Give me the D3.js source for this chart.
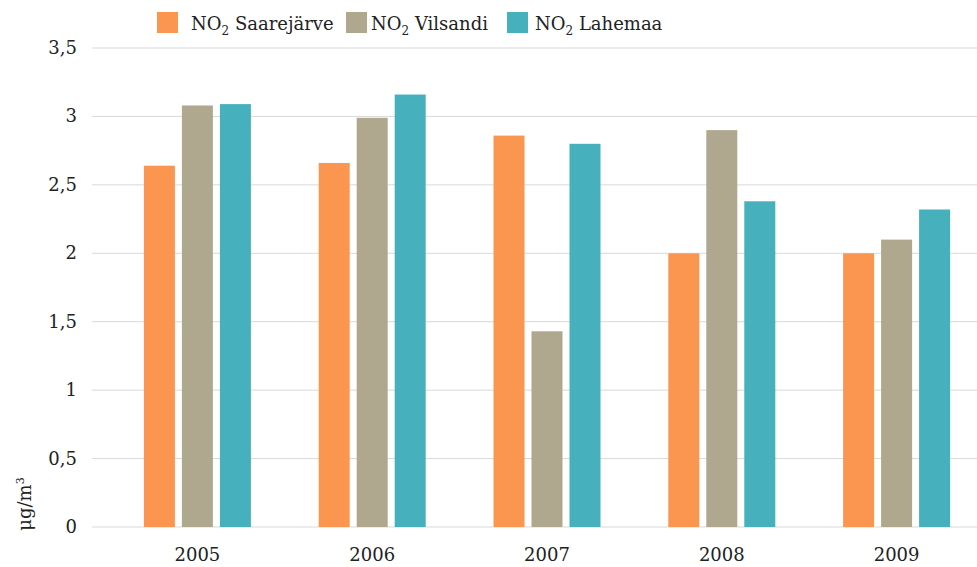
<!DOCTYPE html>
<html>
<head>
<meta charset="utf-8">
<script src="https://cdn.jsdelivr.net/npm/d3@7"></script>
<style>
  body { margin: 0; background: #fff; }
  svg text { font-family: "DejaVu Serif", serif; fill: #222; }
</style>
</head>
<body>
<svg id="chart"></svg>
<script>
const years = ["2005", "2006", "2007", "2008", "2009"];
const seriesNames = ["Saarejärve", "Vilsandi", "Lahemaa"];
const seriesColors = ["#fb9650", "#b0a88e", "#46b0bd"];
const saarejarve = [2.64, 2.66, 2.86, 2.0, 2.0];
const vilsandi = [3.08, 2.99, 1.43, 2.9, 2.1];
const lahemaa = [3.09, 3.16, 2.8, 2.38, 2.32];
const yTicks = [0, 0.5, 1, 1.5, 2, 2.5, 3, 3.5];

const values = [saarejarve, vilsandi, lahemaa];

const width = 977;
const height = 567;

const svg = d3.select("#chart")
    .attr("width", width)
    .attr("height", height);

const yScale = d3.scaleLinear()
    .domain([0, 3.5])
    .range([527, 48]);

const xScale = d3.scaleBand()
    .domain(years)
    .range([110, 984]);

const groupWidth = 107;
const xInner = d3.scaleBand()
    .domain(seriesNames)
    .range([0, groupWidth])
    .paddingInner(0.184);

const fmt = d => String(d).replace(".", ",");

// gridlines
svg.append("g")
    .selectAll("line")
    .data(yTicks)
    .enter()
    .append("line")
    .attr("x1", 92)
    .attr("x2", 977)
    .attr("y1", d => yScale(d))
    .attr("y2", d => yScale(d))
    .attr("stroke", "#d9d9d9")
    .attr("stroke-width", 1);

// y tick labels
svg.append("g")
    .selectAll("text")
    .data(yTicks)
    .enter()
    .append("text")
    .attr("x", 77)
    .attr("y", d => yScale(d) + 6)
    .attr("text-anchor", "end")
    .style("font-size", "18px")
    .text(fmt);

// y axis title
svg.append("text")
    .attr("transform", "translate(31, 504) rotate(-90)")
    .attr("text-anchor", "middle")
    .style("font-size", "18px")
    .text("μg/m")
    .append("tspan")
    .attr("dy", -7)
    .style("font-size", "11px")
    .text("3");

// bars
const groups = svg.append("g")
    .selectAll("g")
    .data(years)
    .enter()
    .append("g")
    .attr("transform", d => `translate(${xScale(d) + (xScale.bandwidth() - groupWidth) / 2}, 0)`);

groups.selectAll("rect")
    .data((d, i) => seriesNames.map((s, j) => ({ s: s, j: j, v: values[j][i] })))
    .enter()
    .append("rect")
    .attr("x", d => xInner(d.s))
    .attr("width", xInner.bandwidth())
    .attr("y", d => yScale(d.v))
    .attr("height", d => yScale(0) - yScale(d.v))
    .attr("fill", d => seriesColors[d.j]);

// x labels
svg.append("g")
    .selectAll("text")
    .data(years)
    .enter()
    .append("text")
    .attr("x", d => xScale(d) + xScale.bandwidth() / 2)
    .attr("y", 561)
    .attr("text-anchor", "middle")
    .style("font-size", "18px")
    .text(d => d);

// legend
const legendSwatchX = [157, 346, 507];
const legendTextX = [191, 371, 535];
const legend = svg.append("g").attr("class", "legend");
seriesNames.forEach(function(name, i) {
    legend.append("rect")
        .attr("x", legendSwatchX[i])
        .attr("y", 12)
        .attr("width", 21)
        .attr("height", 21)
        .attr("fill", seriesColors[i]);
    const t = legend.append("text")
        .attr("x", legendTextX[i])
        .attr("y", 30)
        .style("font-size", "18px");
    t.append("tspan").text("NO");
    t.append("tspan").attr("dy", 5).style("font-size", "12px").text("2");
    t.append("tspan").attr("dy", -5).text(" " + name);
});
</script>
</body>
</html>
